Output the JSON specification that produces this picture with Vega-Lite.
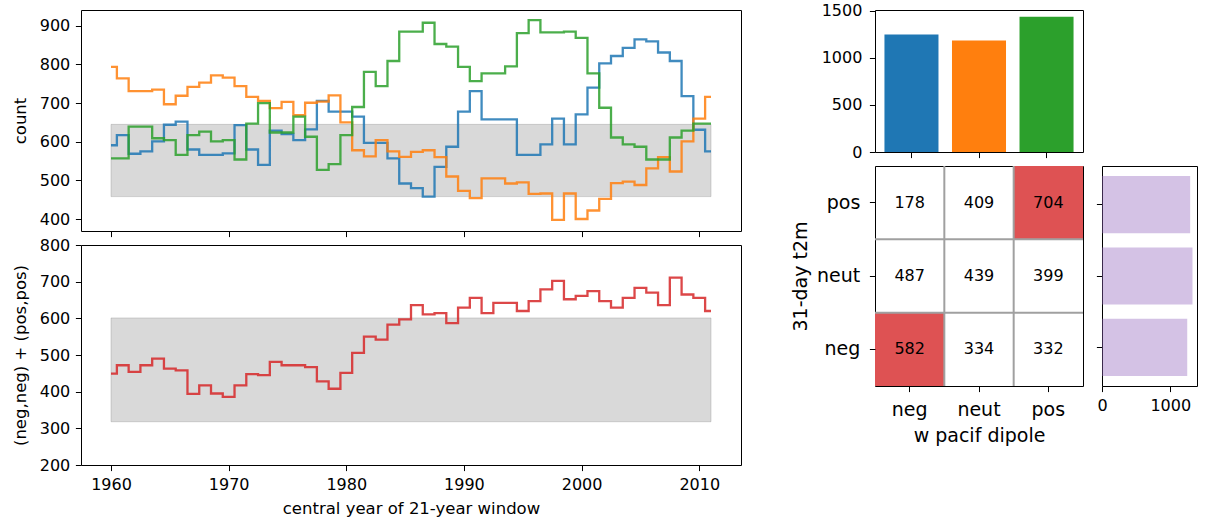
{
  "$schema": "https://vega.github.io/schema/vega-lite/v6.json",
  "padding": {"left": 12, "top": 2, "right": 0, "bottom": 0},
  "background": "white",
  "config": {
    "font": "DejaVu Sans",
    "view": {"stroke": "#000", "strokeWidth": 1},
    "axis": {"domain": false, "grid": false, "tickColor": "#000", "tickSize": 5.6, "tickWidth": 1, "labelColor": "#000", "labelFontSize": 16, "labelPadding": 5.6, "labelFlush": false, "titleColor": "#000", "titleFontWeight": "normal", "titleFontSize": 16.5, "titlePadding": 6.4}
  },
  "datasets": {
    "series": [
      {"year":1960,"neg":591,"neut":794,"pos":557,"pair":449},
      {"year":1961,"neg":617,"neut":764,"pos":557,"pair":472},
      {"year":1962,"neg":569,"neut":731,"pos":639,"pair":454},
      {"year":1963,"neg":575,"neut":731,"pos":639,"pair":472},
      {"year":1964,"neg":601,"neut":735,"pos":609,"pair":490},
      {"year":1965,"neg":644,"neut":697,"pos":604,"pair":463},
      {"year":1966,"neg":652,"neut":719,"pos":566,"pair":458},
      {"year":1967,"neg":580,"neut":742,"pos":617,"pair":394},
      {"year":1968,"neg":566,"neut":753,"pos":626,"pair":417},
      {"year":1969,"neg":566,"neut":772,"pos":601,"pair":395},
      {"year":1970,"neg":570,"neut":766,"pos":604,"pair":386},
      {"year":1971,"neg":643,"neut":744,"pos":554,"pair":417},
      {"year":1972,"neg":580,"neut":716,"pos":647,"pair":448},
      {"year":1973,"neg":540,"neut":706,"pos":700,"pair":445},
      {"year":1974,"neg":629,"neut":687,"pos":624,"pair":481},
      {"year":1975,"neg":620,"neut":703,"pos":624,"pair":472},
      {"year":1976,"neg":604,"neut":669,"pos":665,"pair":472},
      {"year":1977,"neg":632,"neut":701,"pos":613,"pair":467},
      {"year":1978,"neg":706,"neut":704,"pos":527,"pair":428},
      {"year":1979,"neg":678,"neut":720,"pos":542,"pair":408},
      {"year":1980,"neg":678,"neut":650,"pos":617,"pair":451},
      {"year":1981,"neg":665,"neut":578,"pos":690,"pair":506},
      {"year":1982,"neg":597,"neut":562,"pos":781,"pair":550},
      {"year":1983,"neg":597,"neut":604,"pos":744,"pair":542},
      {"year":1984,"neg":557,"neut":575,"pos":809,"pair":583},
      {"year":1985,"neg":492,"neut":561,"pos":885,"pair":597},
      {"year":1986,"neg":480,"neut":574,"pos":885,"pair":636},
      {"year":1987,"neg":458,"neut":578,"pos":908,"pair":611},
      {"year":1988,"neg":535,"neut":560,"pos":853,"pair":614},
      {"year":1989,"neg":587,"neut":510,"pos":846,"pair":587},
      {"year":1990,"neg":678,"neut":473,"pos":794,"pair":629},
      {"year":1991,"neg":731,"neut":454,"pos":757,"pair":656},
      {"year":1992,"neg":658,"neut":505,"pos":777,"pair":614},
      {"year":1993,"neg":658,"neut":505,"pos":777,"pair":642},
      {"year":1994,"neg":658,"neut":492,"pos":795,"pair":642},
      {"year":1995,"neg":566,"neut":495,"pos":881,"pair":620},
      {"year":1996,"neg":566,"neut":465,"pos":915,"pair":647},
      {"year":1997,"neg":593,"neut":466,"pos":883,"pair":679},
      {"year":1998,"neg":660,"neut":398,"pos":883,"pair":702},
      {"year":1999,"neg":593,"neut":466,"pos":885,"pair":652},
      {"year":2000,"neg":671,"neut":400,"pos":869,"pair":661},
      {"year":2001,"neg":740,"neut":422,"pos":777,"pair":674},
      {"year":2002,"neg":803,"neut":452,"pos":688,"pair":647},
      {"year":2003,"neg":822,"neut":493,"pos":611,"pair":629},
      {"year":2004,"neg":843,"neut":497,"pos":593,"pair":656},
      {"year":2005,"neg":865,"neut":488,"pos":587,"pair":683},
      {"year":2006,"neg":860,"neut":531,"pos":554,"pair":670},
      {"year":2007,"neg":831,"neut":560,"pos":554,"pair":636},
      {"year":2008,"neg":809,"neut":523,"pos":611,"pair":711},
      {"year":2009,"neg":718,"neut":601,"pos":629,"pair":665},
      {"year":2010,"neg":631,"neut":660,"pos":647,"pair":656},
      {"year":2011,"neg":575,"neut":716,"pos":647,"pair":620}
    ],
    "band1": [
      {"year":1960,"lo":458,"hi":645},
      {"year":2011,"lo":458,"hi":645}
    ],
    "band2": [
      {"year":1960,"lo":318,"hi":601},
      {"year":2011,"lo":318,"hi":601}
    ],
    "totals": [
      {"w":"neg","total":1247},
      {"w":"neut","total":1182},
      {"w":"pos","total":1435}
    ],
    "matrix": [
      {"w":"neg","t":"pos","n":178},
      {"w":"neut","t":"pos","n":409},
      {"w":"pos","t":"pos","n":704},
      {"w":"neg","t":"neut","n":487},
      {"w":"neut","t":"neut","n":439},
      {"w":"pos","t":"neut","n":399},
      {"w":"neg","t":"neg","n":582},
      {"w":"neut","t":"neg","n":334},
      {"w":"pos","t":"neg","n":332}
    ],
    "rowtotals": [
      {"t":"pos","total":1291},
      {"t":"neut","total":1325},
      {"t":"neg","total":1248}
    ]
  },
  "spacing": 48,
  "hconcat": [
    {
      "bounds": "flush",
      "spacing": 14,
      "vconcat": [
        {
          "width": 660,
          "height": 221,
          "layer": [
            {
              "data": {"name": "band1"},
              "mark": {"type": "area", "fill": "#808080", "fillOpacity": 0.3, "stroke": "#808080", "strokeOpacity": 0.3, "strokeWidth": 1},
              "encoding": {
                "x": {"field": "year", "type": "quantitative", "scale": {"domain": [1957.45, 2013.55], "nice": false, "zero": false}, "axis": {"values": [1960,1970,1980,1990,2000,2010], "labels": false, "title": null}},
                "y": {"field": "lo", "type": "quantitative", "scale": {"domain": [369, 941], "nice": false, "zero": false}, "axis": {"values": [400,500,600,700,800,900], "title": "count", "titlePadding": 10.4}},
                "y2": {"field": "hi"}
              }
            },
            {
              "data": {"name": "series"},
              "transform": [{"fold": ["neg","neut","pos"], "as": ["series","count"]}],
              "mark": {"type": "line", "interpolate": "step", "strokeWidth": 2.3, "opacity": 0.85},
              "encoding": {
                "x": {"field": "year", "type": "quantitative", "axis": {"values": [1960,1970,1980,1990,2000,2010], "labels": false, "title": null}},
                "y": {"field": "count", "type": "quantitative", "axis": {"values": [400,500,600,700,800,900], "title": "count", "titlePadding": 10.4}},
                "color": {"field": "series", "type": "nominal", "scale": {"domain": ["neg","neut","pos"], "range": ["#1f77b4","#ff7f0e","#2ca02c"]}, "legend": null}
              }
            }
          ]
        },
        {
          "width": 660,
          "height": 220,
          "layer": [
            {
              "data": {"name": "band2"},
              "mark": {"type": "area", "fill": "#808080", "fillOpacity": 0.3, "stroke": "#808080", "strokeOpacity": 0.3, "strokeWidth": 1},
              "encoding": {
                "x": {"field": "year", "type": "quantitative", "scale": {"domain": [1957.45, 2013.55], "nice": false, "zero": false}, "axis": {"values": [1960,1970,1980,1990,2000,2010], "format": "d", "title": "central year of 21-year window", "titlePadding": 8.4}},
                "y": {"field": "lo", "type": "quantitative", "scale": {"domain": [200, 800], "nice": false, "zero": false}, "axis": {"values": [200,300,400,500,600,700,800], "title": "(neg,neg) + (pos,pos)", "titlePadding": 10.4}},
                "y2": {"field": "hi"}
              }
            },
            {
              "data": {"name": "series"},
              "mark": {"type": "line", "interpolate": "step", "strokeWidth": 2.3, "opacity": 0.85, "color": "#d62728"},
              "encoding": {
                "x": {"field": "year", "type": "quantitative", "axis": {"values": [1960,1970,1980,1990,2000,2010], "format": "d", "title": "central year of 21-year window", "titlePadding": 8.4}},
                "y": {"field": "pair", "type": "quantitative", "axis": {"values": [200,300,400,500,600,700,800], "title": "(neg,neg) + (pos,pos)", "titlePadding": 10.4}}
              }
            }
          ]
        }
      ]
    },
    {
      "bounds": "flush",
      "spacing": 14,
      "vconcat": [
        {
          "width": 208,
          "height": 142,
          "data": {"name": "totals"},
          "mark": {"type": "bar"},
          "encoding": {
            "x": {"field": "w", "type": "nominal", "sort": ["neg","neut","pos"], "scale": {"paddingInner": 0.2, "paddingOuter": 0.14}, "axis": {"labels": false, "title": null}},
            "y": {"field": "total", "type": "quantitative", "scale": {"domain": [0, 1507], "nice": false}, "axis": {"values": [0,500,1000,1500], "format": "d", "title": null, "labelPadding": 7.5}},
            "color": {"field": "w", "type": "nominal", "scale": {"domain": ["neg","neut","pos"], "range": ["#1f77b4","#ff7f0e","#2ca02c"]}, "legend": null}
          }
        },
        {
          "bounds": "flush",
          "spacing": 19,
          "hconcat": [
            {
              "width": 208,
              "height": 220,
              "data": {"name": "matrix"},
              "layer": [
                {
                  "mark": {"type": "rect"},
                  "encoding": {
                    "x": {"field": "w", "type": "nominal", "sort": ["neg","neut","pos"], "scale": {"padding": 0}, "axis": {"title": "w pacif dipole", "labelAngle": 0, "labelFontSize": 19, "titleFontSize": 19, "labelPadding": 8.6, "titlePadding": 7.4}},
                    "y": {"field": "t", "type": "nominal", "sort": ["pos","neut","neg"], "scale": {"padding": 0}, "axis": {"title": "31-day t2m", "labelFontSize": 19, "titleFontSize": 19, "labelPadding": 9.6}},
                    "color": {"condition": {"test": "datum.w === datum.t && datum.w !== 'neut'", "value": "#de5253"}, "value": "transparent"}
                  }
                },
                {
                  "transform": [{"filter": "datum.t === 'neg' && datum.w !== 'neg'"}],
                  "mark": {"type": "rule", "color": "#a0a0a0", "strokeWidth": 2},
                  "encoding": {
                    "x": {"field": "w", "type": "nominal", "sort": ["neg","neut","pos"], "bandPosition": 0, "axis": {"title": "w pacif dipole", "labelAngle": 0, "labelFontSize": 19, "titleFontSize": 19, "labelPadding": 8.6, "titlePadding": 7.4}}
                  }
                },
                {
                  "transform": [{"filter": "datum.w === 'neg' && datum.t !== 'pos'"}],
                  "mark": {"type": "rule", "color": "#a0a0a0", "strokeWidth": 2},
                  "encoding": {
                    "y": {"field": "t", "type": "nominal", "sort": ["pos","neut","neg"], "bandPosition": 0, "axis": {"title": "31-day t2m", "labelFontSize": 19, "titleFontSize": 19, "labelPadding": 9.6}}
                  }
                },
                {
                  "mark": {"type": "text", "fontSize": 16, "color": "#000"},
                  "encoding": {
                    "x": {"field": "w", "type": "nominal", "sort": ["neg","neut","pos"], "axis": {"title": "w pacif dipole", "labelAngle": 0, "labelFontSize": 19, "titleFontSize": 19, "labelPadding": 8.6, "titlePadding": 7.4}},
                    "y": {"field": "t", "type": "nominal", "sort": ["pos","neut","neg"], "axis": {"title": "31-day t2m", "labelFontSize": 19, "titleFontSize": 19, "labelPadding": 9.6}},
                    "text": {"field": "n", "type": "quantitative"}
                  }
                }
              ]
            },
            {
              "width": 95,
              "height": 220,
              "data": {"name": "rowtotals"},
              "mark": {"type": "bar", "color": "#9467bd", "opacity": 0.4},
              "encoding": {
                "y": {"field": "t", "type": "nominal", "sort": ["pos","neut","neg"], "scale": {"paddingInner": 0.2, "paddingOuter": 0.14}, "axis": {"labels": false, "title": null}},
                "x": {"field": "total", "type": "quantitative", "scale": {"domain": [0, 1391], "nice": false}, "axis": {"values": [0,1000], "format": "d", "title": null}}
              }
            }
          ]
        }
      ]
    }
  ]
}
